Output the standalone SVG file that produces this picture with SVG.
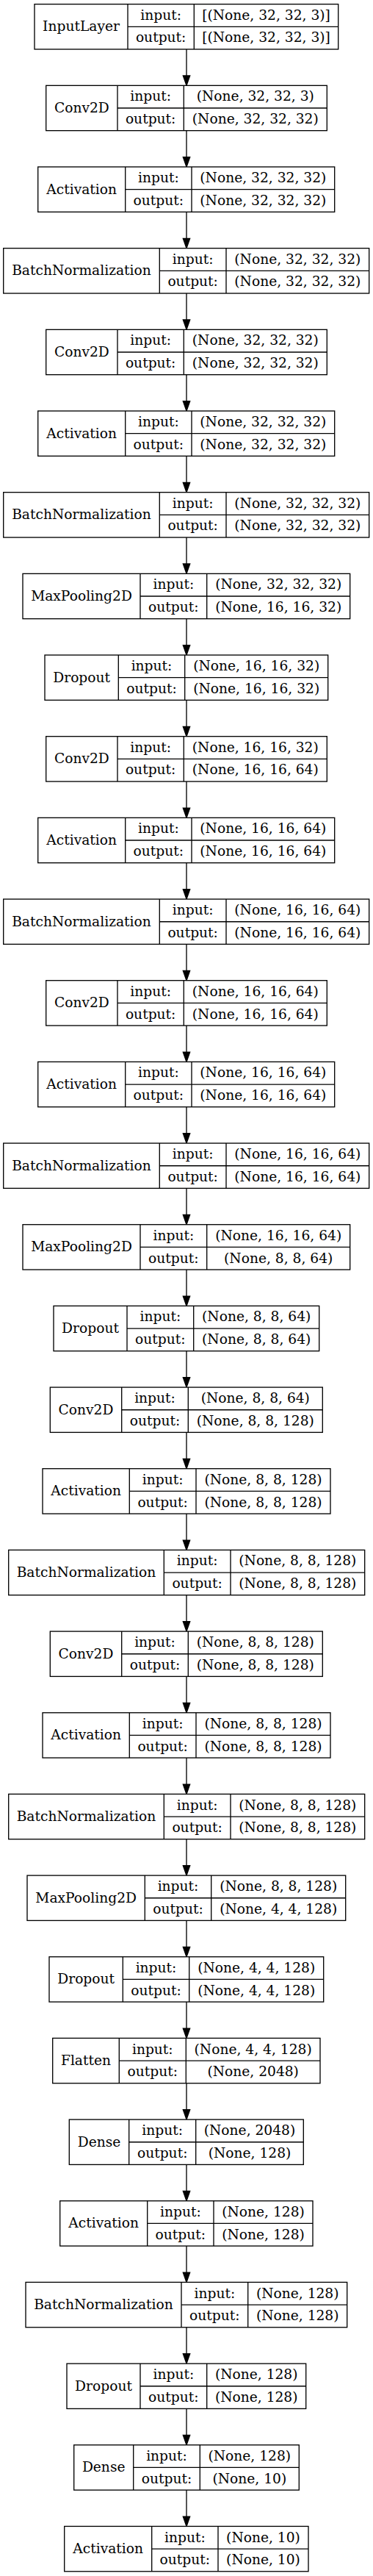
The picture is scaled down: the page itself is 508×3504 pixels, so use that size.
<svg xmlns="http://www.w3.org/2000/svg" width="508" height="3504" viewBox="0 0 508 3504">
<style>
.box{fill:#fff;stroke:#000;stroke-width:1.33}
.sep{stroke:#000;stroke-width:1.33}
.edge{stroke:#000;stroke-width:1.33;fill:none;marker-end:url(#ah)}
text{font-family:"DejaVu Serif","Liberation Serif",serif;font-size:18.67px;text-anchor:middle;fill:#000}
</style>
<defs>
<marker id="ah" markerUnits="userSpaceOnUse" markerWidth="15" markerHeight="11" refX="0" refY="4.67" orient="auto" overflow="visible">
<path d="M0,0 L13.33,4.67 L0,9.33 Z" fill="#000" stroke="#000" stroke-width="1.33"/>
</marker>
</defs>
<rect x="0" y="0" width="508" height="3504" fill="#fff"/>
<g id="connectors">
<line class="edge" x1="254" y1="67" x2="254" y2="103.01"/>
<line class="edge" x1="254" y1="177.67" x2="254" y2="213.68"/>
<line class="edge" x1="254" y1="288.34" x2="254" y2="324.35"/>
<line class="edge" x1="254" y1="399.01" x2="254" y2="435.02"/>
<line class="edge" x1="254" y1="509.68" x2="254" y2="545.69"/>
<line class="edge" x1="254" y1="620.35" x2="254" y2="656.36"/>
<line class="edge" x1="254" y1="731.02" x2="254" y2="767.03"/>
<line class="edge" x1="254" y1="841.69" x2="254" y2="877.70"/>
<line class="edge" x1="254" y1="952.36" x2="254" y2="988.37"/>
<line class="edge" x1="254" y1="1063.03" x2="254" y2="1099.04"/>
<line class="edge" x1="254" y1="1173.70" x2="254" y2="1209.71"/>
<line class="edge" x1="254" y1="1284.37" x2="254" y2="1320.38"/>
<line class="edge" x1="254" y1="1395.04" x2="254" y2="1431.05"/>
<line class="edge" x1="254" y1="1505.71" x2="254" y2="1541.72"/>
<line class="edge" x1="254" y1="1616.38" x2="254" y2="1652.39"/>
<line class="edge" x1="254" y1="1727.05" x2="254" y2="1763.06"/>
<line class="edge" x1="254" y1="1837.72" x2="254" y2="1873.73"/>
<line class="edge" x1="254" y1="1948.39" x2="254" y2="1984.40"/>
<line class="edge" x1="254" y1="2059.06" x2="254" y2="2095.07"/>
<line class="edge" x1="254" y1="2169.73" x2="254" y2="2205.74"/>
<line class="edge" x1="254" y1="2280.40" x2="254" y2="2316.41"/>
<line class="edge" x1="254" y1="2391.07" x2="254" y2="2427.08"/>
<line class="edge" x1="254" y1="2501.74" x2="254" y2="2537.75"/>
<line class="edge" x1="254" y1="2612.41" x2="254" y2="2648.42"/>
<line class="edge" x1="254" y1="2723.08" x2="254" y2="2759.09"/>
<line class="edge" x1="254" y1="2833.75" x2="254" y2="2869.76"/>
<line class="edge" x1="254" y1="2944.42" x2="254" y2="2980.43"/>
<line class="edge" x1="254" y1="3055.09" x2="254" y2="3091.10"/>
<line class="edge" x1="254" y1="3165.76" x2="254" y2="3201.77"/>
<line class="edge" x1="254" y1="3276.43" x2="254" y2="3312.44"/>
<line class="edge" x1="254" y1="3387.10" x2="254" y2="3423.11"/>
</g>
<g id="node0" transform="translate(0,5.67)"><rect class="box" x="47" y="0" width="413.7" height="61.33"/><line class="sep" x1="174" y1="0" x2="174" y2="61.33"/><line class="sep" x1="264.3" y1="0" x2="264.3" y2="61.33"/><line class="sep" x1="174" y1="30.67" x2="460.7" y2="30.67"/><text x="110.5" y="36.67">InputLayer</text><text x="219.15" y="21.1">input:</text><text x="219.15" y="51.8">output:</text><text x="362.5" y="21.1">[(None, 32, 32, 3)]</text><text x="362.5" y="51.8">[(None, 32, 32, 3)]</text></g>
<g id="node1" transform="translate(0,116.34)"><rect class="box" x="62.7" y="0" width="382.6" height="61.33"/><line class="sep" x1="160" y1="0" x2="160" y2="61.33"/><line class="sep" x1="250.3" y1="0" x2="250.3" y2="61.33"/><line class="sep" x1="160" y1="30.67" x2="445.3" y2="30.67"/><text x="111.35" y="36.67">Conv2D</text><text x="205.15" y="21.1">input:</text><text x="205.15" y="51.8">output:</text><text x="347.8" y="21.1">(None, 32, 32, 3)</text><text x="347.8" y="51.8">(None, 32, 32, 32)</text></g>
<g id="node2" transform="translate(0,227.01)"><rect class="box" x="51.7" y="0" width="404" height="61.33"/><line class="sep" x1="170.7" y1="0" x2="170.7" y2="61.33"/><line class="sep" x1="261" y1="0" x2="261" y2="61.33"/><line class="sep" x1="170.7" y1="30.67" x2="455.7" y2="30.67"/><text x="111.2" y="36.67">Activation</text><text x="215.85" y="21.1">input:</text><text x="215.85" y="51.8">output:</text><text x="358.35" y="21.1">(None, 32, 32, 32)</text><text x="358.35" y="51.8">(None, 32, 32, 32)</text></g>
<g id="node3" transform="translate(0,337.68)"><rect class="box" x="4.7" y="0" width="498" height="61.33"/><line class="sep" x1="217.3" y1="0" x2="217.3" y2="61.33"/><line class="sep" x1="308" y1="0" x2="308" y2="61.33"/><line class="sep" x1="217.3" y1="30.67" x2="502.7" y2="30.67"/><text x="111" y="36.67">BatchNormalization</text><text x="262.65" y="21.1">input:</text><text x="262.65" y="51.8">output:</text><text x="405.35" y="21.1">(None, 32, 32, 32)</text><text x="405.35" y="51.8">(None, 32, 32, 32)</text></g>
<g id="node4" transform="translate(0,448.35)"><rect class="box" x="62.7" y="0" width="382.6" height="61.33"/><line class="sep" x1="160" y1="0" x2="160" y2="61.33"/><line class="sep" x1="250.3" y1="0" x2="250.3" y2="61.33"/><line class="sep" x1="160" y1="30.67" x2="445.3" y2="30.67"/><text x="111.35" y="36.67">Conv2D</text><text x="205.15" y="21.1">input:</text><text x="205.15" y="51.8">output:</text><text x="347.8" y="21.1">(None, 32, 32, 32)</text><text x="347.8" y="51.8">(None, 32, 32, 32)</text></g>
<g id="node5" transform="translate(0,559.02)"><rect class="box" x="51.7" y="0" width="404" height="61.33"/><line class="sep" x1="170.7" y1="0" x2="170.7" y2="61.33"/><line class="sep" x1="261" y1="0" x2="261" y2="61.33"/><line class="sep" x1="170.7" y1="30.67" x2="455.7" y2="30.67"/><text x="111.2" y="36.67">Activation</text><text x="215.85" y="21.1">input:</text><text x="215.85" y="51.8">output:</text><text x="358.35" y="21.1">(None, 32, 32, 32)</text><text x="358.35" y="51.8">(None, 32, 32, 32)</text></g>
<g id="node6" transform="translate(0,669.69)"><rect class="box" x="4.7" y="0" width="498" height="61.33"/><line class="sep" x1="217.3" y1="0" x2="217.3" y2="61.33"/><line class="sep" x1="308" y1="0" x2="308" y2="61.33"/><line class="sep" x1="217.3" y1="30.67" x2="502.7" y2="30.67"/><text x="111" y="36.67">BatchNormalization</text><text x="262.65" y="21.1">input:</text><text x="262.65" y="51.8">output:</text><text x="405.35" y="21.1">(None, 32, 32, 32)</text><text x="405.35" y="51.8">(None, 32, 32, 32)</text></g>
<g id="node7" transform="translate(0,780.36)"><rect class="box" x="31" y="0" width="445.7" height="61.33"/><line class="sep" x1="191" y1="0" x2="191" y2="61.33"/><line class="sep" x1="281.7" y1="0" x2="281.7" y2="61.33"/><line class="sep" x1="191" y1="30.67" x2="476.7" y2="30.67"/><text x="111" y="36.67">MaxPooling2D</text><text x="236.35" y="21.1">input:</text><text x="236.35" y="51.8">output:</text><text x="379.2" y="21.1">(None, 32, 32, 32)</text><text x="379.2" y="51.8">(None, 16, 16, 32)</text></g>
<g id="node8" transform="translate(0,891.03)"><rect class="box" x="61" y="0" width="385.7" height="61.33"/><line class="sep" x1="161.3" y1="0" x2="161.3" y2="61.33"/><line class="sep" x1="251.7" y1="0" x2="251.7" y2="61.33"/><line class="sep" x1="161.3" y1="30.67" x2="446.7" y2="30.67"/><text x="111.15" y="36.67">Dropout</text><text x="206.5" y="21.1">input:</text><text x="206.5" y="51.8">output:</text><text x="349.2" y="21.1">(None, 16, 16, 32)</text><text x="349.2" y="51.8">(None, 16, 16, 32)</text></g>
<g id="node9" transform="translate(0,1001.70)"><rect class="box" x="62.7" y="0" width="382.6" height="61.33"/><line class="sep" x1="160" y1="0" x2="160" y2="61.33"/><line class="sep" x1="250.3" y1="0" x2="250.3" y2="61.33"/><line class="sep" x1="160" y1="30.67" x2="445.3" y2="30.67"/><text x="111.35" y="36.67">Conv2D</text><text x="205.15" y="21.1">input:</text><text x="205.15" y="51.8">output:</text><text x="347.8" y="21.1">(None, 16, 16, 32)</text><text x="347.8" y="51.8">(None, 16, 16, 64)</text></g>
<g id="node10" transform="translate(0,1112.37)"><rect class="box" x="51.7" y="0" width="404" height="61.33"/><line class="sep" x1="170.7" y1="0" x2="170.7" y2="61.33"/><line class="sep" x1="261" y1="0" x2="261" y2="61.33"/><line class="sep" x1="170.7" y1="30.67" x2="455.7" y2="30.67"/><text x="111.2" y="36.67">Activation</text><text x="215.85" y="21.1">input:</text><text x="215.85" y="51.8">output:</text><text x="358.35" y="21.1">(None, 16, 16, 64)</text><text x="358.35" y="51.8">(None, 16, 16, 64)</text></g>
<g id="node11" transform="translate(0,1223.04)"><rect class="box" x="4.7" y="0" width="498" height="61.33"/><line class="sep" x1="217.3" y1="0" x2="217.3" y2="61.33"/><line class="sep" x1="308" y1="0" x2="308" y2="61.33"/><line class="sep" x1="217.3" y1="30.67" x2="502.7" y2="30.67"/><text x="111" y="36.67">BatchNormalization</text><text x="262.65" y="21.1">input:</text><text x="262.65" y="51.8">output:</text><text x="405.35" y="21.1">(None, 16, 16, 64)</text><text x="405.35" y="51.8">(None, 16, 16, 64)</text></g>
<g id="node12" transform="translate(0,1333.71)"><rect class="box" x="62.7" y="0" width="382.6" height="61.33"/><line class="sep" x1="160" y1="0" x2="160" y2="61.33"/><line class="sep" x1="250.3" y1="0" x2="250.3" y2="61.33"/><line class="sep" x1="160" y1="30.67" x2="445.3" y2="30.67"/><text x="111.35" y="36.67">Conv2D</text><text x="205.15" y="21.1">input:</text><text x="205.15" y="51.8">output:</text><text x="347.8" y="21.1">(None, 16, 16, 64)</text><text x="347.8" y="51.8">(None, 16, 16, 64)</text></g>
<g id="node13" transform="translate(0,1444.38)"><rect class="box" x="51.7" y="0" width="404" height="61.33"/><line class="sep" x1="170.7" y1="0" x2="170.7" y2="61.33"/><line class="sep" x1="261" y1="0" x2="261" y2="61.33"/><line class="sep" x1="170.7" y1="30.67" x2="455.7" y2="30.67"/><text x="111.2" y="36.67">Activation</text><text x="215.85" y="21.1">input:</text><text x="215.85" y="51.8">output:</text><text x="358.35" y="21.1">(None, 16, 16, 64)</text><text x="358.35" y="51.8">(None, 16, 16, 64)</text></g>
<g id="node14" transform="translate(0,1555.05)"><rect class="box" x="4.7" y="0" width="498" height="61.33"/><line class="sep" x1="217.3" y1="0" x2="217.3" y2="61.33"/><line class="sep" x1="308" y1="0" x2="308" y2="61.33"/><line class="sep" x1="217.3" y1="30.67" x2="502.7" y2="30.67"/><text x="111" y="36.67">BatchNormalization</text><text x="262.65" y="21.1">input:</text><text x="262.65" y="51.8">output:</text><text x="405.35" y="21.1">(None, 16, 16, 64)</text><text x="405.35" y="51.8">(None, 16, 16, 64)</text></g>
<g id="node15" transform="translate(0,1665.72)"><rect class="box" x="31" y="0" width="445.7" height="61.33"/><line class="sep" x1="191" y1="0" x2="191" y2="61.33"/><line class="sep" x1="281.7" y1="0" x2="281.7" y2="61.33"/><line class="sep" x1="191" y1="30.67" x2="476.7" y2="30.67"/><text x="111" y="36.67">MaxPooling2D</text><text x="236.35" y="21.1">input:</text><text x="236.35" y="51.8">output:</text><text x="379.2" y="21.1">(None, 16, 16, 64)</text><text x="379.2" y="51.8">(None, 8, 8, 64)</text></g>
<g id="node16" transform="translate(0,1776.39)"><rect class="box" x="73" y="0" width="361.7" height="61.33"/><line class="sep" x1="173" y1="0" x2="173" y2="61.33"/><line class="sep" x1="263.7" y1="0" x2="263.7" y2="61.33"/><line class="sep" x1="173" y1="30.67" x2="434.7" y2="30.67"/><text x="123" y="36.67">Dropout</text><text x="218.35" y="21.1">input:</text><text x="218.35" y="51.8">output:</text><text x="349.2" y="21.1">(None, 8, 8, 64)</text><text x="349.2" y="51.8">(None, 8, 8, 64)</text></g>
<g id="node17" transform="translate(0,1887.06)"><rect class="box" x="68.3" y="0" width="371" height="61.33"/><line class="sep" x1="165.7" y1="0" x2="165.7" y2="61.33"/><line class="sep" x1="256.3" y1="0" x2="256.3" y2="61.33"/><line class="sep" x1="165.7" y1="30.67" x2="439.3" y2="30.67"/><text x="117" y="36.67">Conv2D</text><text x="211" y="21.1">input:</text><text x="211" y="51.8">output:</text><text x="347.8" y="21.1">(None, 8, 8, 64)</text><text x="347.8" y="51.8">(None, 8, 8, 128)</text></g>
<g id="node18" transform="translate(0,1997.73)"><rect class="box" x="58" y="0" width="392" height="61.33"/><line class="sep" x1="176.3" y1="0" x2="176.3" y2="61.33"/><line class="sep" x1="267" y1="0" x2="267" y2="61.33"/><line class="sep" x1="176.3" y1="30.67" x2="450" y2="30.67"/><text x="117.15" y="36.67">Activation</text><text x="221.65" y="21.1">input:</text><text x="221.65" y="51.8">output:</text><text x="358.5" y="21.1">(None, 8, 8, 128)</text><text x="358.5" y="51.8">(None, 8, 8, 128)</text></g>
<g id="node19" transform="translate(0,2108.40)"><rect class="box" x="11.7" y="0" width="485" height="61.33"/><line class="sep" x1="223.3" y1="0" x2="223.3" y2="61.33"/><line class="sep" x1="314" y1="0" x2="314" y2="61.33"/><line class="sep" x1="223.3" y1="30.67" x2="496.7" y2="30.67"/><text x="117.5" y="36.67">BatchNormalization</text><text x="268.65" y="21.1">input:</text><text x="268.65" y="51.8">output:</text><text x="405.35" y="21.1">(None, 8, 8, 128)</text><text x="405.35" y="51.8">(None, 8, 8, 128)</text></g>
<g id="node20" transform="translate(0,2219.07)"><rect class="box" x="68.3" y="0" width="371" height="61.33"/><line class="sep" x1="165.7" y1="0" x2="165.7" y2="61.33"/><line class="sep" x1="256.3" y1="0" x2="256.3" y2="61.33"/><line class="sep" x1="165.7" y1="30.67" x2="439.3" y2="30.67"/><text x="117" y="36.67">Conv2D</text><text x="211" y="21.1">input:</text><text x="211" y="51.8">output:</text><text x="347.8" y="21.1">(None, 8, 8, 128)</text><text x="347.8" y="51.8">(None, 8, 8, 128)</text></g>
<g id="node21" transform="translate(0,2329.74)"><rect class="box" x="58" y="0" width="392" height="61.33"/><line class="sep" x1="176.3" y1="0" x2="176.3" y2="61.33"/><line class="sep" x1="267" y1="0" x2="267" y2="61.33"/><line class="sep" x1="176.3" y1="30.67" x2="450" y2="30.67"/><text x="117.15" y="36.67">Activation</text><text x="221.65" y="21.1">input:</text><text x="221.65" y="51.8">output:</text><text x="358.5" y="21.1">(None, 8, 8, 128)</text><text x="358.5" y="51.8">(None, 8, 8, 128)</text></g>
<g id="node22" transform="translate(0,2440.41)"><rect class="box" x="11.7" y="0" width="485" height="61.33"/><line class="sep" x1="223.3" y1="0" x2="223.3" y2="61.33"/><line class="sep" x1="314" y1="0" x2="314" y2="61.33"/><line class="sep" x1="223.3" y1="30.67" x2="496.7" y2="30.67"/><text x="117.5" y="36.67">BatchNormalization</text><text x="268.65" y="21.1">input:</text><text x="268.65" y="51.8">output:</text><text x="405.35" y="21.1">(None, 8, 8, 128)</text><text x="405.35" y="51.8">(None, 8, 8, 128)</text></g>
<g id="node23" transform="translate(0,2551.08)"><rect class="box" x="37" y="0" width="433.7" height="61.33"/><line class="sep" x1="197.3" y1="0" x2="197.3" y2="61.33"/><line class="sep" x1="287.7" y1="0" x2="287.7" y2="61.33"/><line class="sep" x1="197.3" y1="30.67" x2="470.7" y2="30.67"/><text x="117.15" y="36.67">MaxPooling2D</text><text x="242.5" y="21.1">input:</text><text x="242.5" y="51.8">output:</text><text x="379.2" y="21.1">(None, 8, 8, 128)</text><text x="379.2" y="51.8">(None, 4, 4, 128)</text></g>
<g id="node24" transform="translate(0,2661.75)"><rect class="box" x="67" y="0" width="373.7" height="61.33"/><line class="sep" x1="167.3" y1="0" x2="167.3" y2="61.33"/><line class="sep" x1="257.7" y1="0" x2="257.7" y2="61.33"/><line class="sep" x1="167.3" y1="30.67" x2="440.7" y2="30.67"/><text x="117.15" y="36.67">Dropout</text><text x="212.5" y="21.1">input:</text><text x="212.5" y="51.8">output:</text><text x="349.2" y="21.1">(None, 4, 4, 128)</text><text x="349.2" y="51.8">(None, 4, 4, 128)</text></g>
<g id="node25" transform="translate(0,2772.42)"><rect class="box" x="71.7" y="0" width="364.3" height="61.33"/><line class="sep" x1="162.3" y1="0" x2="162.3" y2="61.33"/><line class="sep" x1="253.3" y1="0" x2="253.3" y2="61.33"/><line class="sep" x1="162.3" y1="30.67" x2="436" y2="30.67"/><text x="117" y="36.67">Flatten</text><text x="207.8" y="21.1">input:</text><text x="207.8" y="51.8">output:</text><text x="344.65" y="21.1">(None, 4, 4, 128)</text><text x="344.65" y="51.8">(None, 2048)</text></g>
<g id="node26" transform="translate(0,2883.09)"><rect class="box" x="94.3" y="0" width="319" height="61.33"/><line class="sep" x1="175.7" y1="0" x2="175.7" y2="61.33"/><line class="sep" x1="266.7" y1="0" x2="266.7" y2="61.33"/><line class="sep" x1="175.7" y1="30.67" x2="413.3" y2="30.67"/><text x="135" y="36.67">Dense</text><text x="221.2" y="21.1">input:</text><text x="221.2" y="51.8">output:</text><text x="340" y="21.1">(None, 2048)</text><text x="340" y="51.8">(None, 128)</text></g>
<g id="node27" transform="translate(0,2993.76)"><rect class="box" x="81.7" y="0" width="344.3" height="61.33"/><line class="sep" x1="200.7" y1="0" x2="200.7" y2="61.33"/><line class="sep" x1="291" y1="0" x2="291" y2="61.33"/><line class="sep" x1="200.7" y1="30.67" x2="426" y2="30.67"/><text x="141.2" y="36.67">Activation</text><text x="245.85" y="21.1">input:</text><text x="245.85" y="51.8">output:</text><text x="358.5" y="21.1">(None, 128)</text><text x="358.5" y="51.8">(None, 128)</text></g>
<g id="node28" transform="translate(0,3104.43)"><rect class="box" x="35" y="0" width="437.7" height="61.33"/><line class="sep" x1="247" y1="0" x2="247" y2="61.33"/><line class="sep" x1="337.7" y1="0" x2="337.7" y2="61.33"/><line class="sep" x1="247" y1="30.67" x2="472.7" y2="30.67"/><text x="141" y="36.67">BatchNormalization</text><text x="292.35" y="21.1">input:</text><text x="292.35" y="51.8">output:</text><text x="405.2" y="21.1">(None, 128)</text><text x="405.2" y="51.8">(None, 128)</text></g>
<g id="node29" transform="translate(0,3215.10)"><rect class="box" x="91" y="0" width="325.7" height="61.33"/><line class="sep" x1="191" y1="0" x2="191" y2="61.33"/><line class="sep" x1="281.7" y1="0" x2="281.7" y2="61.33"/><line class="sep" x1="191" y1="30.67" x2="416.7" y2="30.67"/><text x="141" y="36.67">Dropout</text><text x="236.35" y="21.1">input:</text><text x="236.35" y="51.8">output:</text><text x="349.2" y="21.1">(None, 128)</text><text x="349.2" y="51.8">(None, 128)</text></g>
<g id="node30" transform="translate(0,3325.77)"><rect class="box" x="100.7" y="0" width="306.6" height="61.33"/><line class="sep" x1="181.7" y1="0" x2="181.7" y2="61.33"/><line class="sep" x1="272.3" y1="0" x2="272.3" y2="61.33"/><line class="sep" x1="181.7" y1="30.67" x2="407.3" y2="30.67"/><text x="141.2" y="36.67">Dense</text><text x="227" y="21.1">input:</text><text x="227" y="51.8">output:</text><text x="339.8" y="21.1">(None, 128)</text><text x="339.8" y="51.8">(None, 10)</text></g>
<g id="node31" transform="translate(0,3436.44)"><rect class="box" x="87.7" y="0" width="332.3" height="61.33"/><line class="sep" x1="206.7" y1="0" x2="206.7" y2="61.33"/><line class="sep" x1="297" y1="0" x2="297" y2="61.33"/><line class="sep" x1="206.7" y1="30.67" x2="420" y2="30.67"/><text x="147.2" y="36.67">Activation</text><text x="251.85" y="21.1">input:</text><text x="251.85" y="51.8">output:</text><text x="358.5" y="21.1">(None, 10)</text><text x="358.5" y="51.8">(None, 10)</text></g>
</svg>
